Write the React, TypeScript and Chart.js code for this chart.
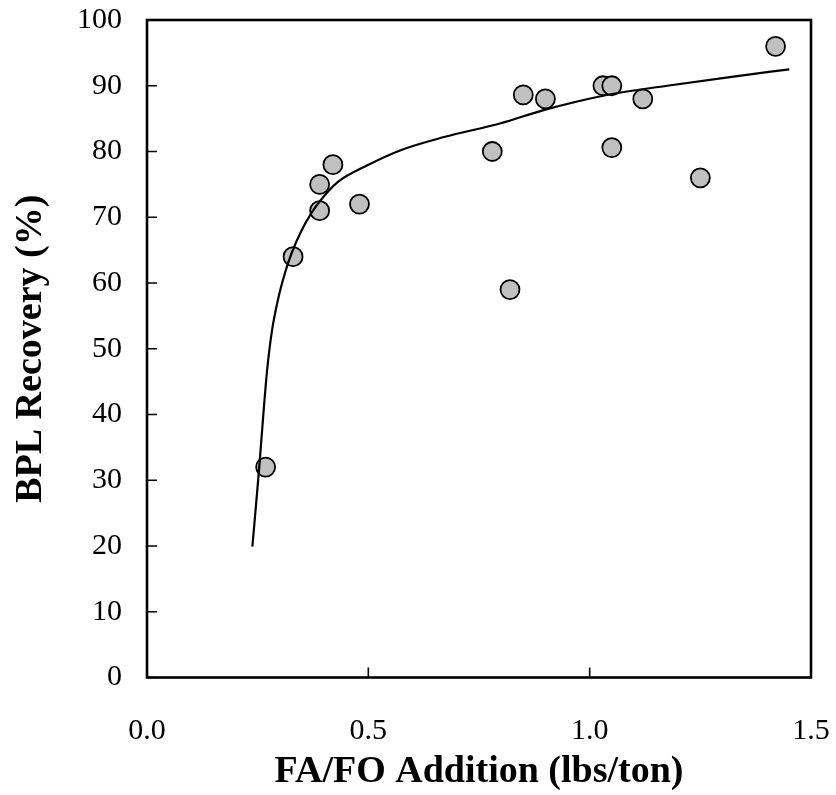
import React, { useEffect, useRef } from "react";
import { Chart, registerables } from "chart.js";

Chart.register(...registerables);

// Measured data points
const pointX = [0.268, 0.33, 0.39, 0.39, 0.42, 0.48, 0.78, 0.82, 0.85, 0.9, 1.03, 1.05, 1.05, 1.12, 1.25, 1.42];
const pointY = [32, 64, 75, 71, 78, 72, 80, 59, 88.6, 88, 90, 90, 80.6, 88, 76, 96];

// Fitted curve
const curveX = [0.238, 0.253, 0.262, 0.271, 0.282, 0.297, 0.312, 0.327, 0.35, 0.372, 0.39, 0.43, 0.498, 0.573, 0.671, 0.799, 0.896, 1.039, 1.175, 1.325, 1.451];
const curveY = [19.9, 31.5, 39.3, 46.5, 52.6, 57.8, 61.6, 64.6, 68.1, 70.7, 72.4, 75.3, 77.9, 80.2, 82.2, 84.3, 86.3, 88.6, 90.0, 91.4, 92.5];

const xTicks = [0, 0.5, 1.0, 1.5];
const yTicks = [0, 10, 20, 30, 40, 50, 60, 70, 80, 90, 100];

const xTitle = "FA/FO Addition (lbs/ton)";
const yTitle = "BPL Recovery (%)";

const FONT = '"Liberation Serif", "Times New Roman", serif';

const frameAndTicks = {
  id: "frameAndTicks",
  afterDraw(chart: any) {
    const { ctx, chartArea } = chart;
    const xs = chart.scales.x;
    const ys = chart.scales.y;
    ctx.save();
    ctx.strokeStyle = "#000";
    ctx.lineWidth = 1.6;
    ctx.beginPath();
    for (const v of yTicks) {
      const py = ys.getPixelForValue(v);
      ctx.moveTo(chartArea.left, py);
      ctx.lineTo(chartArea.left + 10, py);
    }
    for (const v of xTicks) {
      const px = xs.getPixelForValue(v);
      ctx.moveTo(px, chartArea.bottom);
      ctx.lineTo(px, chartArea.bottom - 10);
    }
    ctx.stroke();
    ctx.lineWidth = 2.6;
    ctx.strokeRect(chartArea.left, chartArea.top, chartArea.right - chartArea.left, chartArea.bottom - chartArea.top);
    ctx.restore();
  },
};

export default function App() {
  const ref = useRef<HTMLCanvasElement | null>(null);

  useEffect(() => {
    if (!ref.current) return;
    const chart = new Chart(ref.current, {
      type: "scatter",
      data: {
        datasets: [
          {
            type: "line",
            data: curveX.map((x, i) => ({ x, y: curveY[i] })),
            borderColor: "#000",
            borderWidth: 2.2,
            pointRadius: 0,
            fill: false,
            cubicInterpolationMode: "monotone",
          } as any,
          {
            data: pointX.map((x, i) => ({ x, y: pointY[i] })),
            backgroundColor: "#c0c0c0",
            borderColor: "#000",
            borderWidth: 1.8,
            pointRadius: 9.5,
            pointHoverRadius: 9.5,
          },
        ],
      },
      options: {
        responsive: false,
        animation: false,
        layout: { padding: { top: 20, right: 25, left: 0, bottom: 0 } },
        plugins: { legend: { display: false }, tooltip: { enabled: false } },
        events: [],
        scales: {
          x: {
            type: "linear",
            min: 0,
            max: 1.5,
            afterFit: (s: any) => {
              s.height = 117.5;
              s.paddingLeft = 0;
              s.paddingRight = 0;
            },
            afterBuildTicks: (s: any) => {
              s.ticks = xTicks.map((v) => ({ value: v }));
            },
            grid: { display: false, drawTicks: false },
            border: { display: false },
            ticks: {
              padding: 36,
              color: "#000",
              font: { family: FONT, size: 30 },
              maxRotation: 0,
              autoSkip: false,
              callback: (v: any) => Number(v).toFixed(1),
            },
            title: {
              display: true,
              text: xTitle,
              color: "#000",
              font: { family: FONT, size: 38, weight: "bold", lineHeight: 1 },
              padding: { top: 0, bottom: 4 },
            },
          },
          y: {
            type: "linear",
            min: 0,
            max: 100,
            afterFit: (s: any) => {
              s.width = 147;
              s.paddingTop = 0;
              s.paddingBottom = 0;
            },
            afterBuildTicks: (s: any) => {
              s.ticks = yTicks.map((v) => ({ value: v }));
            },
            grid: { display: false, drawTicks: false },
            border: { display: false },
            ticks: {
              padding: 25,
              color: "#000",
              font: { family: FONT, size: 30 },
              autoSkip: false,
            },
            title: {
              display: true,
              text: yTitle,
              color: "#000",
              font: { family: FONT, size: 38, weight: "bold", lineHeight: 1 },
              padding: { top: 12, bottom: 0 },
            },
          },
        },
      },
      plugins: [frameAndTicks],
    });
    return () => chart.destroy();
  }, []);

  return (
    <div style={{ position: "absolute", left: 0, top: 0, width: 836, height: 795, background: "#fff" }}>
      <canvas ref={ref} width={836} height={795} style={{ display: "block" }} />
    </div>
  );
}
